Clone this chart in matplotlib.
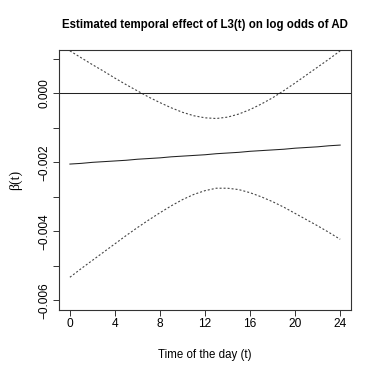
import matplotlib
matplotlib.use("Agg")
import matplotlib.pyplot as plt

# hours of the day
hours = [0, 1, 2, 3, 4, 5, 6, 7, 8, 9, 10, 11, 12,
         13, 14, 15, 16, 17, 18, 19, 20, 21, 22, 23, 24]

# estimated beta(t)
beta_est = [-0.00205, -0.00203, -0.00200, -0.00198, -0.00196, -0.00194, -0.00191,
            -0.00189, -0.00187, -0.00184, -0.00182, -0.00180, -0.00178, -0.00175,
            -0.00173, -0.00171, -0.00168, -0.00166, -0.00164, -0.00162, -0.00159,
            -0.00157, -0.00155, -0.00152, -0.00150]

# upper / lower confidence band
beta_upper = [0.00123, 0.00103, 0.00083, 0.00064, 0.00044, 0.00025, 0.00007,
              -0.00011, -0.00027, -0.00042, -0.00055, -0.00065, -0.00071, -0.00073,
              -0.00069, -0.00060, -0.00047, -0.00031, -0.00013, 0.00008, 0.00030,
              0.00053, 0.00076, 0.00099, 0.00123]
beta_lower = [-0.00533, -0.00508, -0.00484, -0.00460, -0.00436, -0.00412, -0.00389,
              -0.00367, -0.00346, -0.00326, -0.00308, -0.00293, -0.00282, -0.00275,
              -0.00275, -0.00279, -0.00288, -0.00300, -0.00314, -0.00330, -0.00348,
              -0.00366, -0.00384, -0.00403, -0.00423]

x_ticks = [0, 4, 8, 12, 16, 20, 24]
y_ticks = [0.001, 0.0, -0.001, -0.002, -0.003, -0.004, -0.005, -0.006]
y_labels = ["", "0.000", "", "\u22120.002", "", "\u22120.004", "", "\u22120.006"]

plt.rcParams['font.family'] = ['Liberation Sans', 'DejaVu Sans']

fig = plt.figure(figsize=(3.74, 3.74), dpi=100)
ax = fig.add_axes([0.158, 0.171, 0.7805, 0.6953])

ax.plot(hours, beta_est, color='#222222', lw=0.75)
ax.plot(hours, beta_upper, color='#444444', lw=0.8, linestyle=(0, (1.8, 1.8)))
ax.plot(hours, beta_lower, color='#444444', lw=0.8, linestyle=(0, (1.8, 1.8)))
ax.axhline(0, color='#222222', lw=0.75)

ax.set_xlim(-0.96, 24.96)
ax.set_ylim(-0.00628, 0.001255)

ax.set_xticks(x_ticks)
ax.set_xticklabels([str(t) for t in x_ticks])
ax.set_yticks(y_ticks)
ax.set_yticklabels(y_labels, rotation=90, va='center')
ax.tick_params(direction='out', length=4.5, width=0.7, labelsize=8.6, pad=1.5, color='#333333')

for s in ax.spines.values():
    s.set_linewidth(0.8)
    s.set_color('#333333')

fig.text(0.548, 0.933, "Estimated temporal effect of L3(t) on log odds of AD",
         ha='center', va='center', fontsize=8.3, fontweight='bold')
fig.text(0.548, 0.051, "Time of the day (t)", ha='center', va='center', fontsize=8.3)
fig.text(0.040, 0.519, "\u03b2(t)", ha='center', va='center', rotation=90,
         fontsize=10, family=['Liberation Serif', 'DejaVu Serif'])

fig.savefig("out.png", dpi=100)
